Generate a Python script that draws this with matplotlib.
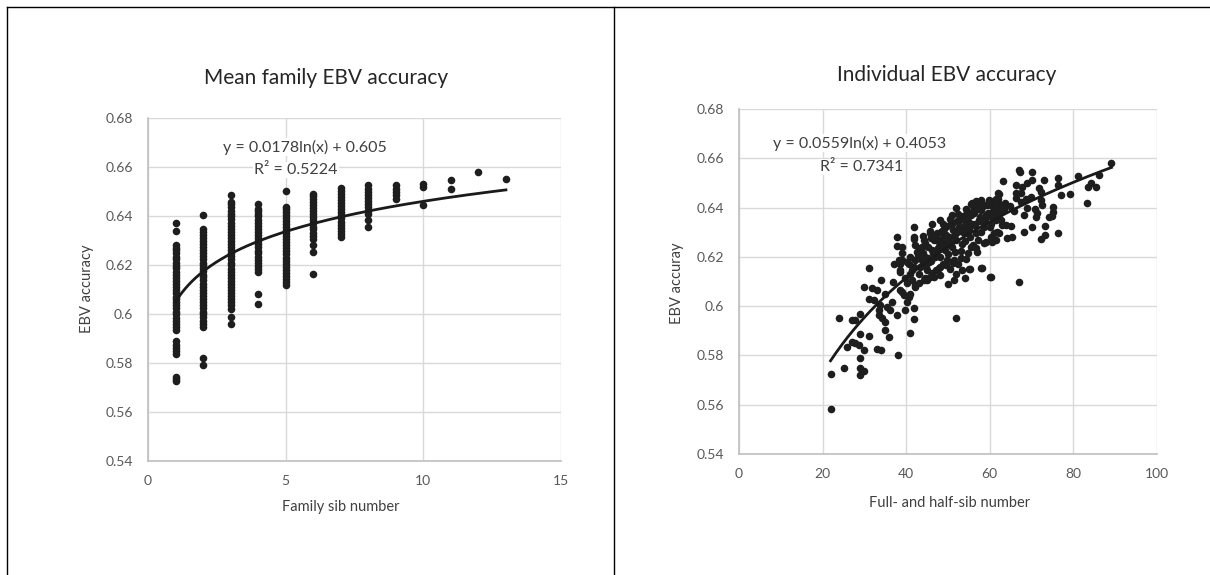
import numpy as np
import matplotlib
matplotlib.use("Agg")
from matplotlib import pyplot as plt
from matplotlib.lines import Line2D

plt.rcParams['font.family'] = ['Lato', 'DejaVu Sans']

# ---- left panel: mean family EBV accuracy, one stack per family sib number
sib_counts = [1, 2, 3, 4, 5, 6, 7, 8, 9, 10, 11, 12, 13]
fam_acc = [
    [0.5725, 0.5735, 0.5742, 0.5835, 0.5848, 0.5862, 0.5875, 0.589,
     0.5933, 0.5946, 0.5959, 0.5973, 0.5985, 0.5998, 0.601, 0.6023, 0.6036,
     0.6048, 0.606, 0.6071, 0.6085, 0.6098, 0.611, 0.6121, 0.6135, 0.6148,
     0.616, 0.6172, 0.6186, 0.6197, 0.621, 0.6223, 0.6234, 0.6248, 0.626,
     0.6271, 0.628, 0.6337, 0.6371],
    [0.5793, 0.5822, 0.5947, 0.596, 0.5972, 0.5986, 0.5998, 0.601, 0.6024,
     0.6036, 0.6049, 0.606, 0.6073, 0.6087, 0.6098, 0.611, 0.6124, 0.6137,
     0.6149, 0.616, 0.6174, 0.6186, 0.6199, 0.621, 0.6223, 0.6237, 0.6249,
     0.626, 0.6273, 0.6286, 0.6299, 0.631, 0.6323, 0.6336, 0.6348, 0.6405],
    [0.5961, 0.5988, 0.6022, 0.6035, 0.6047, 0.606, 0.6073, 0.6086, 0.6098,
     0.611, 0.6122, 0.6136, 0.6148, 0.616, 0.6173, 0.6185, 0.6198, 0.621,
     0.6223, 0.6236, 0.6248, 0.626, 0.6272, 0.6285, 0.6298, 0.631, 0.6323,
     0.6335, 0.6347, 0.636, 0.6373, 0.6386, 0.6398, 0.641, 0.6422, 0.6435,
     0.6447, 0.6457, 0.6484],
    [0.6042, 0.608, 0.6171, 0.6184, 0.6196, 0.6209, 0.6222, 0.6234, 0.6247,
     0.6259, 0.6272, 0.6285, 0.6297, 0.631, 0.6322, 0.6335, 0.6348, 0.636,
     0.6373, 0.6385, 0.6398, 0.641, 0.6421, 0.643, 0.645],
    [0.6117, 0.613, 0.6142, 0.6155, 0.6167, 0.618, 0.6193, 0.6205, 0.6218,
     0.623, 0.6243, 0.6256, 0.6268, 0.628, 0.6293, 0.6306, 0.6318, 0.633,
     0.6343, 0.6356, 0.6368, 0.638, 0.6393, 0.6405, 0.6418, 0.6429, 0.6437,
     0.6501],
    [0.6162, 0.6253, 0.628, 0.6307, 0.632, 0.6332, 0.6345, 0.6357, 0.637,
     0.6383, 0.6395, 0.6408, 0.642, 0.6433, 0.6446, 0.6458, 0.647, 0.6482,
     0.6491],
    [0.6314, 0.6327, 0.6339, 0.6352, 0.6365, 0.6377, 0.639, 0.6403, 0.6415,
     0.6428, 0.644, 0.6453, 0.6466, 0.6478, 0.649, 0.6503, 0.6516],
    [0.6355, 0.6382, 0.641, 0.6422, 0.6435, 0.6447, 0.646, 0.6473, 0.6485,
     0.6498, 0.651, 0.6525],
    [0.6471, 0.6484, 0.6497, 0.651, 0.6525],
    [0.6444, 0.6518, 0.6532],
    [0.6509, 0.6548],
    [0.6578],
    [0.655],
]
fam_fit = (0.0178, 0.605)   # y = a ln(x) + b, as printed on the chart
fam_r2 = 0.5224

# ---- right panel: individual EBV accuracy vs full- and half-sib number
ind_n = [
    21.9, 21.9, 25.0, 23.9, 25.9, 27.0, 27.8, 29.0, 27.0, 27.8, 28.6, 29.0,
    29.8, 29.0, 29.0, 29.0, 29.9, 31.0, 31.0, 29.9, 31.8, 33.0, 31.0, 32.2,
    34.0, 33.4, 34.2, 35.0, 33.0, 33.9, 35.0, 36.0, 38.0, 36.9, 37.1, 38.2,
    37.9, 37.9, 39.0, 38.4, 39.0, 37.9, 36.2, 35.4, 36.6, 33.8, 40.2, 40.8,
    39.8, 41.0, 41.8, 42.2, 40.2, 41.0, 42.2, 38.6, 40.6, 41.8, 35.0, 33.4,
    41.9, 52.0, 41.8, 42.2, 43.0, 44.2, 45.0, 46.6, 48.2, 50.0, 51.4, 51.8,
    54.0, 55.0, 58.0, 60.0, 53.4, 57.0, 55.4, 60.6, 61.4,
    52.0, 51.0, 48.2, 46.2, 41.9, 41.9, 55.4, 56.6, 57.8, 59.8, 62.2, 62.2,
    39.0, 39.0, 38.6, 41.0, 41.4, 42.2, 42.6, 43.4, 43.8, 44.2, 44.6, 45.0,
    45.4, 45.8, 46.2, 46.6, 47.0, 47.4, 47.8, 48.2, 48.6, 49.0, 49.4, 49.8,
    50.2, 50.6, 51.0, 51.4, 51.8, 52.6, 53.0, 53.4, 53.8, 54.2, 54.6, 55.0,
    55.8, 56.2, 56.6, 57.4, 57.8, 58.6, 59.0, 59.4, 60.2, 60.6, 61.4, 61.8,
    61.0, 60.2, 38.6, 39.4, 40.6,
    89.1, 86.2, 84.2, 83.4, 85.4, 83.2, 81.1, 79.1, 77.1, 76.2, 76.2, 76.2,
    75.2, 75.0, 74.2, 73.1, 73.1, 72.2, 73.0, 71.8, 72.2, 72.2, 72.6, 71.4,
    71.0, 70.2, 70.2, 69.0, 69.8, 70.2, 68.2, 69.0, 68.2, 67.2, 67.8, 67.4,
    67.4, 66.2, 66.2, 66.2, 63.2, 62.0, 62.0, 61.8, 61.0, 62.6, 63.8, 65.0,
    64.2, 65.2, 62.2, 61.0, 67.0, 60.2,
    67.0, 59.8, 57.0, 55.7, 58.1, 55.3,
    43.0, 43.6, 44.0, 44.8, 45.2, 45.6, 46.0, 46.8, 47.2, 47.6, 48.0, 48.4,
    48.8, 49.2, 49.6, 50.0, 50.4, 50.8, 51.2, 51.6, 52.0, 52.4, 52.8, 53.2,
    53.6, 54.0, 54.4, 54.8, 55.2, 55.6, 56.0, 56.4, 56.8, 57.2, 57.6, 58.0,
    58.4, 58.8, 59.2, 59.6, 60.0, 60.4, 61.0, 61.6, 62.4, 63.0, 63.6,
    # extra points from the dense core
    42.8, 43.3, 44.1, 44.6, 45.3, 45.9, 46.4, 47.1, 47.7, 48.5, 49.1, 49.7,
    50.3, 50.9, 51.5, 52.2, 52.9, 53.5, 54.1, 54.7, 55.3, 55.9, 56.5, 57.1,
    57.7, 58.3, 58.9, 59.5, 60.1, 60.7, 61.3, 62.0, 44.4, 46.1, 47.9, 49.5,
    51.1, 53.1, 54.9, 56.7, 58.5, 40.3, 41.5, 39.6, 43.9, 45.7, 48.9, 50.5,
    52.5, 54.3, 56.1, 57.9, 59.7, 61.5, 63.3, 64.8, 65.8, 68.6, 70.8, 74.8,
]
ind_acc = [
    0.5583, 0.5724, 0.5747, 0.595, 0.5835, 0.5943, 0.5943, 0.597, 0.5855,
    0.5849, 0.5842, 0.5887, 0.5822, 0.5788, 0.5747, 0.572, 0.5738, 0.5878,
    0.6153, 0.6076, 0.6072, 0.6065, 0.6031, 0.6024, 0.6105, 0.5964, 0.595,
    0.5937, 0.5828, 0.5822, 0.5903, 0.5873, 0.5801, 0.6099, 0.6173, 0.6186,
    0.6281, 0.6243, 0.6214, 0.6139, 0.6058, 0.5964, 0.5984, 0.5997, 0.6018,
    0.6004, 0.6018, 0.5889, 0.5984, 0.6051, 0.6281, 0.6247, 0.618, 0.6132,
    0.6085, 0.6173, 0.6173, 0.6159, 0.6051, 0.5984,
    0.5946, 0.595, 0.5991, 0.6078, 0.6092, 0.6105, 0.6108, 0.6119, 0.6126,
    0.6088, 0.6105, 0.6132, 0.6115, 0.6149, 0.6153, 0.6119, 0.6146, 0.622,
    0.6241, 0.6261, 0.6268,
    0.64, 0.6369, 0.6349, 0.6335, 0.6322, 0.6274, 0.6416, 0.6427, 0.643,
    0.643, 0.6457, 0.6416,
    0.624, 0.6187, 0.6146, 0.62, 0.6146, 0.6187, 0.622, 0.616, 0.6241, 0.6268,
    0.62, 0.6146, 0.618, 0.6295, 0.6227, 0.6268, 0.62, 0.6295, 0.6241, 0.616,
    0.6274, 0.6315, 0.6227, 0.6187, 0.6281, 0.6335, 0.6241, 0.6187, 0.6295,
    0.6322, 0.6362, 0.6254, 0.6295, 0.6342, 0.6382, 0.6308, 0.6335, 0.6376,
    0.6295, 0.6349, 0.6389, 0.6322, 0.6369, 0.6409, 0.6335, 0.6382, 0.6349,
    0.6301, 0.6295, 0.6281, 0.6065, 0.6045, 0.6038,
    0.658, 0.6532, 0.6498, 0.6482, 0.6482, 0.642, 0.6528, 0.6455, 0.6451,
    0.6519, 0.6492, 0.6298, 0.6404, 0.6383, 0.6363, 0.6325, 0.6288, 0.6271,
    0.6512, 0.6478, 0.6465, 0.6431, 0.641, 0.6376, 0.6363, 0.6546, 0.6512,
    0.6498, 0.6444, 0.6322, 0.637, 0.6397, 0.6302, 0.6546, 0.6485, 0.6458,
    0.6424, 0.6492, 0.6458, 0.6437, 0.6509, 0.6458, 0.6433, 0.639, 0.6376,
    0.635, 0.6329, 0.6325, 0.6275, 0.6279, 0.6295, 0.6268, 0.6099, 0.6119,
    0.6553, 0.6424, 0.642, 0.6417, 0.6154, 0.6151,
    0.613, 0.619, 0.6215, 0.616, 0.624, 0.612, 0.6185, 0.6215, 0.6145,
    0.6265, 0.62, 0.63, 0.617, 0.625, 0.629, 0.621, 0.615, 0.626, 0.631,
    0.622, 0.627, 0.617, 0.635, 0.6225, 0.632, 0.6265, 0.619, 0.6345, 0.628,
    0.637, 0.625, 0.633, 0.64, 0.627, 0.636, 0.63, 0.641, 0.6345, 0.626,
    0.638, 0.632, 0.641, 0.636, 0.64, 0.638, 0.633, 0.642,
    0.6205, 0.6235, 0.6175, 0.6255, 0.6195, 0.6275, 0.6215, 0.6285, 0.6235,
    0.6305, 0.6255, 0.6325, 0.6265, 0.6335, 0.6285, 0.6345, 0.6305, 0.6365,
    0.6315, 0.6375, 0.6325, 0.6385, 0.6335, 0.6395, 0.6345, 0.6405, 0.6355,
    0.6415, 0.6365, 0.6425, 0.6375, 0.6405, 0.6115, 0.6135, 0.6155, 0.6165,
    0.6175, 0.6195, 0.6215, 0.6235, 0.6255, 0.6095, 0.6105, 0.6115, 0.6285,
    0.6305, 0.6335, 0.6355, 0.6375, 0.6395, 0.6405, 0.6415, 0.6425, 0.6435,
    0.6395, 0.6405, 0.6385, 0.6435, 0.6395, 0.6365,
]
ind_fit = (0.0559, 0.4053)
ind_r2 = 0.7341

W, H = 1210, 575
fig = plt.figure(figsize=(W / 100, H / 100), dpi=100)
fig.patch.set_facecolor('white')

TICK_C = '#595959'
TEXT_C = '#404040'
GRID_C = '#d9d9d9'
DOT_C = '#1e1e1e'


def px(x, y):
    # image pixel -> figure fraction
    return x / W, 1 - y / H


def style_axes(ax, xticks, yticks):
    ax.set_xticks(xticks)
    ax.set_yticks(yticks)
    ax.grid(True, color=GRID_C, linewidth=1.0)
    ax.set_axisbelow(True)
    for s in ['top', 'right']:
        ax.spines[s].set_visible(False)
    for s in ['left', 'bottom']:
        ax.spines[s].set_color('#bfbfbf')
        ax.spines[s].set_linewidth(1.2)
    ax.tick_params(length=0, labelsize=10, labelcolor=TICK_C)
    ax.tick_params(axis='x', pad=10)
    ax.tick_params(axis='y', pad=11)


def panel(rect, xs, ys, fit, xlim, xticks, fit_range):
    ax = fig.add_axes(rect)
    ax.scatter(xs, ys, s=30, color=DOT_C, linewidths=0, zorder=3)
    a, b = fit
    xf = np.linspace(fit_range[0], fit_range[1], 200)
    ax.plot(xf, a * np.log(xf) + b, color='#1a1a1a', lw=2.0, zorder=4)
    ax.set_xlim(*xlim)
    ax.set_ylim(0.54, 0.68)
    style_axes(ax, xticks, np.arange(0.54, 0.681, 0.02))
    ax.set_yticklabels(['0.54', '0.56', '0.58', '0.6', '0.62', '0.64', '0.66', '0.68'])
    return ax


# left panel
fam_x = [n for n, vals in zip(sib_counts, fam_acc) for _ in vals]
fam_y = [v for vals in fam_acc for v in vals]
axl = panel([148 / W, 1 - 461 / H, 413 / W, 343 / H], fam_x, fam_y, fam_fit,
            (0, 15), [0, 5, 10, 15], (1, max(sib_counts)))

# right panel
axr = panel([739 / W, 1 - 454 / H, 418 / W, 345 / H], ind_n, ind_acc, ind_fit,
            (0, 100), [0, 20, 40, 60, 80, 100], (min(ind_n), max(ind_n)))

# titles and labels
fig.text(*px(326, 78), 'Mean family EBV accuracy', ha='center', va='center',
         fontsize=15, color='#262626')
fig.text(*px(947, 75), 'Individual EBV accuracy', ha='center', va='center',
         fontsize=15, color='#262626')
fig.text(*px(341, 507), 'Family sib number', ha='center', va='center',
         fontsize=10.5, color=TEXT_C)
fig.text(*px(950, 503), 'Full- and half-sib number', ha='center', va='center',
         fontsize=10.5, color=TEXT_C)
fig.text(*px(87, 289), 'EBV accuracy', ha='center', va='center', rotation=90,
         fontsize=10.5, color=TEXT_C)
fig.text(*px(677, 283), 'EBV accuray', ha='center', va='center', rotation=90,
         fontsize=10.5, color=TEXT_C)

# trendline equations
box = dict(facecolor='white', edgecolor='none', pad=1)
fig.text(*px(305, 147), 'y = %.4fln(x) + %.3f' % fam_fit, ha='center',
         va='center', fontsize=11.5, color=TEXT_C, bbox=box)
fig.text(*px(296, 170), 'R² = %.4f' % fam_r2, ha='center', va='center',
         fontsize=11.5, color=TEXT_C, bbox=box)
fig.text(*px(860, 143), 'y = %.4fln(x) + %.4f' % ind_fit, ha='center',
         va='center', fontsize=11.5, color=TEXT_C, bbox=box)
fig.text(*px(862, 167), 'R² = %.4f' % ind_r2, ha='center', va='center',
         fontsize=11.5, color=TEXT_C, bbox=box)

# outer frame lines
fig.add_artist(Line2D([7 / W, 1], [1 - 7 / H, 1 - 7 / H], color='black', lw=1.0))
fig.add_artist(Line2D([7 / W, 7 / W], [0, 1 - 7 / H], color='black', lw=1.0))
fig.add_artist(Line2D([614 / W, 614 / W], [0, 1 - 7 / H], color='black', lw=1.0))

fig.savefig('out.png', dpi=100)
